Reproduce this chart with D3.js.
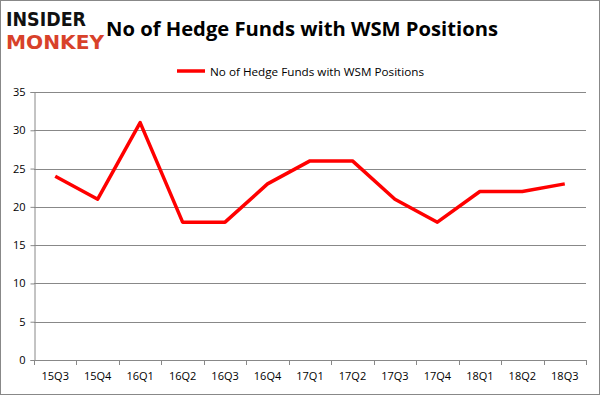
<!DOCTYPE html>
<html><head><meta charset="utf-8">
<script src="https://cdn.jsdelivr.net/npm/d3@7"></script>
<style>body{margin:0;background:#fff}svg{display:block}</style>
</head><body>
<script>
const categories = ["15Q3","15Q4","16Q1","16Q2","16Q3","16Q4","17Q1","17Q2","17Q3","17Q4","18Q1","18Q2","18Q3"];
const values = [24,21,31,18,18,23,26,26,21,18,22,22,23];
const yTicks = [0,5,10,15,20,25,30,35];
const seriesName = "No of Hedge Funds with WSM Positions";
const titleText = "No of Hedge Funds with WSM Positions";

const W = 601, H = 396;
const svg = d3.select("body").append("svg").attr("width", W).attr("height", H);
svg.append("rect").attr("x",0.5).attr("y",0.5).attr("width",W-2).attr("height",H-2)
  .attr("fill","#fff").attr("stroke","#888");

const m = {left:34, right:586, top:92, bottom:360};
const x = d3.scaleBand().domain(categories).range([m.left, m.right]);
const y = d3.scaleLinear().domain([0,35]).range([m.bottom, m.top]);

// gridlines
svg.append("g").selectAll("line").data(yTicks.filter(d=>d>0)).join("line")
  .attr("x1",m.left).attr("x2",m.right)
  .attr("y1",d=>Math.round(y(d))+0.5).attr("y2",d=>Math.round(y(d))+0.5)
  .attr("stroke","#888").attr("stroke-width",1);

const yAxis = svg.append("g").attr("transform",`translate(${m.left+0.5},0)`)
  .call(d3.axisLeft(y).tickValues(yTicks).tickSize(4).tickPadding(5));
const xAxis = svg.append("g").attr("transform",`translate(0,${m.bottom+0.5})`)
  .call(d3.axisBottom(x).tickSize(0).tickPadding(12));
// x tick marks at band boundaries
svg.append("g").selectAll("line").data(d3.range(categories.length+1)).join("line")
  .attr("x1",i=>Math.round(m.left + i*x.step())+0.5).attr("x2",i=>Math.round(m.left + i*x.step())+0.5)
  .attr("y1",m.bottom).attr("y2",m.bottom+5).attr("stroke","#888");

[yAxis,xAxis].forEach(g=>{
  g.selectAll(".domain").attr("stroke","#888");
  g.selectAll(".tick line").attr("stroke","#888");
  g.selectAll("text").attr("font-family","'Open Sans', sans-serif").attr("font-size",11).attr("fill","#000");
});
xAxis.selectAll(".domain").attr("d",`M${m.left},0H${m.right}`);

// line
const line = d3.line().x((d,i)=>x(categories[i])+x.bandwidth()/2).y(d=>y(d));
svg.append("path").datum(values).attr("d",line).attr("fill","none")
  .attr("stroke","#ff0000").attr("stroke-width",3.5).attr("stroke-linejoin","round");

// title
svg.append("text").attr("x",302).attr("y",36).attr("text-anchor","middle")
  .attr("font-family","'Open Sans', sans-serif").attr("font-weight","bold").attr("font-size",20)
  .attr("textLength",392).attr("lengthAdjust","spacingAndGlyphs")
  .text(titleText);

// legend
svg.append("line").attr("x1",177).attr("x2",205).attr("y1",71).attr("y2",71)
  .attr("stroke","#ff0000").attr("stroke-width",3.5);
svg.append("text").attr("x",210).attr("y",75.5)
  .attr("font-family","'Open Sans', sans-serif").attr("font-size",11)
  .attr("textLength",214).attr("lengthAdjust","spacingAndGlyphs")
  .text(seriesName);

// logo
svg.append("text").attr("x",6).attr("y",26)
  .attr("font-family","'DejaVu Sans', sans-serif").attr("font-weight","bold").attr("font-size",19)
  .attr("textLength",80).attr("lengthAdjust","spacingAndGlyphs").attr("fill","#111").text("INSIDER");
svg.append("text").attr("x",6).attr("y",49)
  .attr("font-family","'DejaVu Sans', sans-serif").attr("font-weight","bold").attr("font-size",19)
  .attr("textLength",98).attr("lengthAdjust","spacingAndGlyphs").attr("fill","#d8412a").text("MONKEY");
</script>
</body></html>
